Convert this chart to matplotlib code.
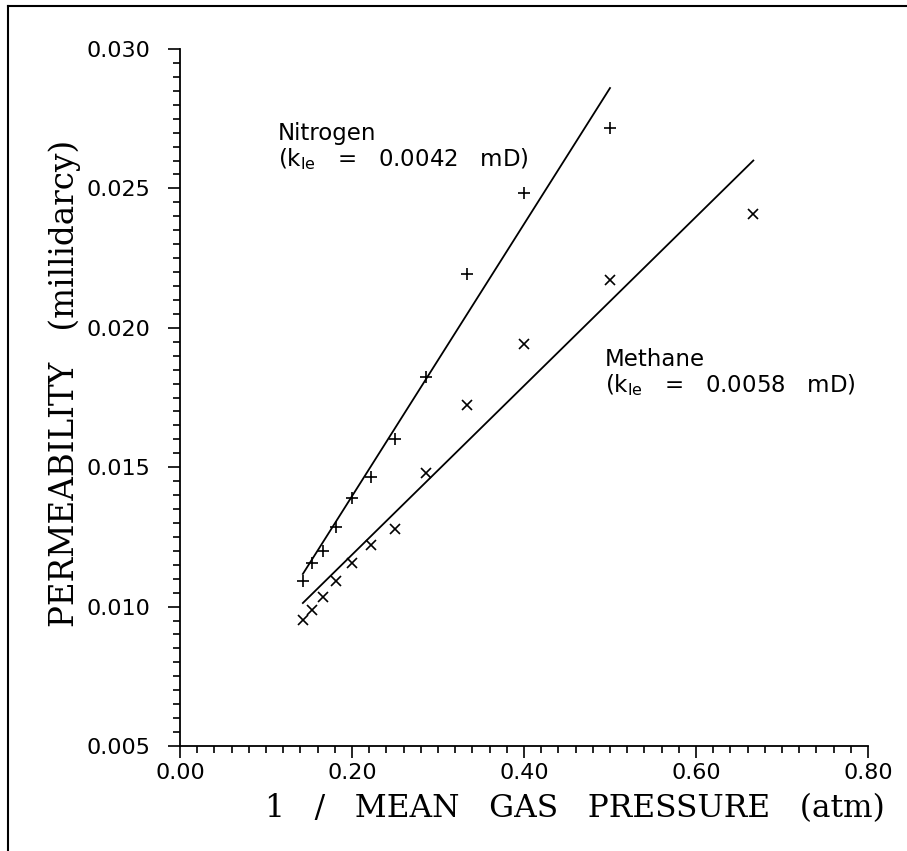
import matplotlib
matplotlib.use("Agg")
import matplotlib.pyplot as plt
from matplotlib.lines import Line2D
from matplotlib.ticker import MultipleLocator, FormatStrFormatter
import numpy as np

plt.rcParams['mathtext.default'] = 'regular'

# ---- data ----
n2_x = [1/2, 1/2.5, 1/3, 1/3.5, 1/4, 1/4.5, 1/5, 1/5.5, 1/6, 1/6.5, 1/7]
n2_y = [0.02717, 0.02485, 0.02192, 0.01825, 0.01601, 0.01464, 0.01391,
        0.01287, 0.01199, 0.01155, 0.01092]
ch4_x = [1/1.5, 1/2, 1/2.5, 1/3, 1/3.5, 1/4, 1/4.5, 1/5, 1/5.5, 1/6, 1/6.5, 1/7]
ch4_y = [0.02408, 0.02171, 0.01941, 0.01724, 0.01480, 0.01277, 0.01221,
         0.01155, 0.01093, 0.01033, 0.00988, 0.00952]
n2_kle, n2_slope = 0.0042, 0.0488
ch4_kle, ch4_slope = 0.0058, 0.0303
n2_label = "Nitrogen\n(k$_{le}$   =   0.0042   mD)"
ch4_label = "Methane\n(k$_{le}$   =   0.0058   mD)"
xlabel = "1   /   MEAN   GAS   PRESSURE   (atm)"
ylabel = "PERMEABILITY   (millidarcy)"

W, H = 907, 851
fig = plt.figure(figsize=(W/100, H/100), dpi=100)
ax = fig.add_axes([180/W, 1-746/H, 688/W, 697/H])

ax.plot(n2_x, n2_y, linestyle='none', marker='+', color='black',
        markersize=9, markeredgewidth=1.2)
ax.plot(ch4_x, ch4_y, linestyle='none', marker='x', color='black',
        markersize=6.5, markeredgewidth=1.2)

lx = np.array([min(n2_x), max(n2_x)])
ax.plot(lx, n2_kle + n2_slope*lx, color='black', lw=1.3)
lx = np.array([min(ch4_x), max(ch4_x)])
ax.plot(lx, ch4_kle + ch4_slope*lx, color='black', lw=1.3)

sans = 'DejaVu Sans'
ax.text(0.114, 0.02738, n2_label, ha='left', va='top', fontsize=16.5,
        family=sans, linespacing=1.05)
ax.text(0.494, 0.01928, ch4_label, ha='left', va='top', fontsize=16.5,
        family=sans, linespacing=1.05)

ax.set_xlim(0, 0.8)
ax.set_ylim(0.005, 0.030)
for s in ['top', 'right']:
    ax.spines[s].set_visible(False)
for s in ['left', 'bottom']:
    ax.spines[s].set_linewidth(1.3)
ax.xaxis.set_major_locator(MultipleLocator(0.2))
ax.xaxis.set_minor_locator(MultipleLocator(0.02))
ax.yaxis.set_major_locator(MultipleLocator(0.005))
ax.yaxis.set_minor_locator(MultipleLocator(0.0005))
ax.xaxis.set_major_formatter(FormatStrFormatter('%.2f'))
ax.yaxis.set_major_formatter(FormatStrFormatter('%.3f'))
ax.tick_params(which='major', length=8.5, width=1.2, direction='out')
ax.tick_params(which='minor', length=5, width=1.2, direction='out')
ax.tick_params(axis='y', which='major', pad=13)
ax.tick_params(axis='x', which='major', pad=4)
for lab in ax.get_xticklabels() + ax.get_yticklabels():
    lab.set_family(sans)
    lab.set_fontsize(16)

fig.text(575/W, 1-817/H, xlabel, ha='center', va='baseline',
         family='DejaVu Serif', fontsize=22.5)
fig.text(74/W, 1-383/H, ylabel, ha='center', va='baseline', rotation=90,
         rotation_mode='anchor', family='DejaVu Serif', fontsize=23.5)

# outer frame (left and top edges)
fig.add_artist(Line2D([8/W, 8/W], [0, 1-6/H], transform=fig.transFigure,
                      color='black', lw=1.5))
fig.add_artist(Line2D([8/W, 1], [1-6/H, 1-6/H], transform=fig.transFigure,
                      color='black', lw=1.5))

fig.savefig('out.png', dpi=100)
